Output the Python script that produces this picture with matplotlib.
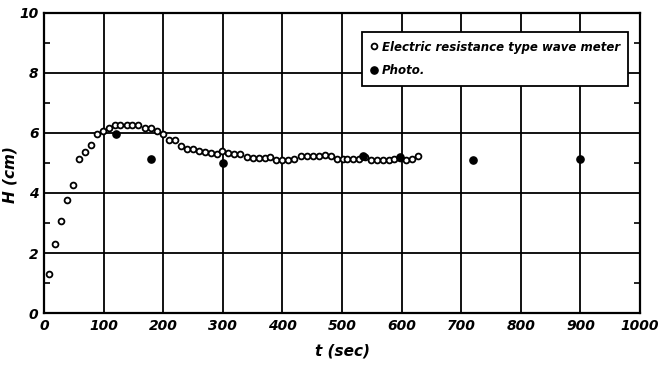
import numpy as np
import matplotlib
matplotlib.use("Agg")
import matplotlib.pyplot as plt
from matplotlib.ticker import MultipleLocator

# electric resistance type wave meter (open circles)
t_meter = [8, 18, 28, 38, 48, 59, 69, 79, 89, 99, 109, 119, 128, 139, 148, 158,
           169, 179, 189, 200, 210, 220, 230, 240, 250, 260, 270, 280, 290, 299,
           308, 318, 329, 340, 350, 360, 370, 379, 390, 400, 410, 420, 431, 441,
           451, 461, 471, 481, 491, 501, 509, 519, 529, 538, 548, 558, 568, 578,
           588, 598, 607, 617, 628]
h_meter = [1.29, 2.29, 3.07, 3.77, 4.26, 5.14, 5.38, 5.59, 5.96, 6.07, 6.18, 6.26,
           6.26, 6.26, 6.26, 6.26, 6.18, 6.18, 6.08, 5.97, 5.77, 5.77, 5.58, 5.48,
           5.47, 5.41, 5.38, 5.34, 5.30, 5.40, 5.32, 5.30, 5.30, 5.21, 5.18, 5.18,
           5.18, 5.21, 5.10, 5.10, 5.10, 5.12, 5.23, 5.23, 5.23, 5.23, 5.25, 5.23,
           5.12, 5.12, 5.12, 5.12, 5.12, 5.20, 5.10, 5.10, 5.10, 5.10, 5.12, 5.15,
           5.10, 5.12, 5.24]

# photo (filled dots)
t_photo = [121, 180, 300, 536, 598, 719, 899]
h_photo = [5.97, 5.14, 4.99, 5.22, 5.20, 5.10, 5.12]

x_ticks = [0, 100, 200, 300, 400, 500, 600, 700, 800, 900, 1000]
y_ticks = [0, 2, 4, 6, 8, 10]

plt.rcParams['font.family'] = ['DejaVu Sans']

fig = plt.figure(figsize=(6.64, 3.70), dpi=100)
ax = fig.add_axes([0.0663, 0.154, 0.8976, 0.811])

ax.plot(t_meter, h_meter, linestyle='none', marker='o', markersize=4.2,
        markerfacecolor='white', markeredgecolor='black', markeredgewidth=1.3,
        label='Electric resistance type wave meter', zorder=3)
ax.plot(t_photo, h_photo, linestyle='none', marker='o', markersize=5.2,
        color='black', label='Photo.', zorder=4)

ax.set_xlim(0, 1000)
ax.set_ylim(0, 10)
ax.set_xticks(x_ticks)
ax.set_yticks(y_ticks)
ax.set_xticklabels([str(v) for v in x_ticks], fontsize=10, fontweight='bold', fontstyle='italic')
ax.set_yticklabels([str(v) for v in y_ticks], fontsize=10, fontweight='bold', fontstyle='italic')
ax.yaxis.set_minor_locator(MultipleLocator(1))
ax.tick_params(which='major', length=0, pad=4)
ax.tick_params(axis='y', which='minor', direction='in', length=4, width=1.2,
               left=True, right=True)

ax.grid(True, which='major', color='black', linewidth=1.3)
for s in ax.spines.values():
    s.set_linewidth(1.6)

ax.set_xlabel('t (sec)', fontsize=11, fontweight='bold', fontstyle='italic', labelpad=8)
ax.set_ylabel('H (cm)', fontsize=11, fontweight='bold', fontstyle='italic')
ax.yaxis.set_label_coords(-0.045, 0.46)

leg = ax.legend(loc='upper right', bbox_to_anchor=(0.99, 0.955), fancybox=False,
                framealpha=1, edgecolor='black', handlelength=0.6, handletextpad=0.4,
                borderpad=0.7, labelspacing=0.9,
                prop={'weight': 'bold', 'style': 'italic', 'size': 8.5})
leg.get_frame().set_linewidth(1.3)

fig.savefig('out.png', dpi=100)
